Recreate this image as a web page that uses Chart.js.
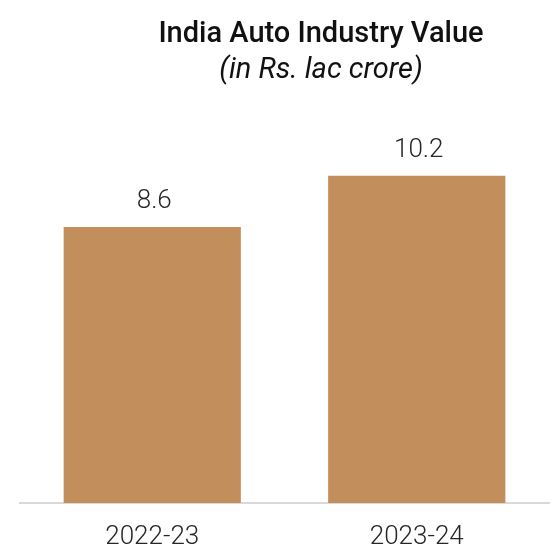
<!DOCTYPE html>
<html>
<head>
<meta charset="utf-8">
<script src="https://cdn.jsdelivr.net/npm/chart.js@4"></script>
<style>
html,body{margin:0;padding:0;background:#fff;}
#wrap{width:555px;height:548px;position:relative;}
</style>
</head>
<body>
<div id="wrap"><canvas id="c" width="555" height="548"></canvas></div>
<script>
const categories = ["2022-23", "2023-24"];
const values = [8.6, 10.2];
const titleText = "India Auto Industry Value";
const subtitleText = "(in Rs. lac crore)";

const titlePlugin = {
  id: 'customTitle',
  afterDraw(chart) {
    const ctx = chart.ctx;
    ctx.save();
    ctx.fillStyle = '#111111';
    ctx.textAlign = 'center';
    ctx.textBaseline = 'alphabetic';
    ctx.font = '500 29px Roboto';
    ctx.fillText(titleText, 321, 42);
    ctx.font = 'italic 400 29px Roboto';
    ctx.fillText(subtitleText, 321, 78);
    ctx.restore();
  }
};

const labelPlugin = {
  id: 'valueLabels',
  afterDatasetsDraw(chart) {
    const ctx = chart.ctx;
    const meta = chart.getDatasetMeta(0);
    ctx.save();
    ctx.fillStyle = '#262626';
    ctx.textAlign = 'center';
    ctx.textBaseline = 'alphabetic';
    ctx.font = '300 26px Roboto';
    meta.data.forEach((bar, i) => {
      ctx.fillText(String(values[i]), bar.x + 2, bar.y - 19);
    });
    ctx.restore();
  }
};

new Chart(document.getElementById('c'), {
  type: 'bar',
  data: {
    labels: categories,
    datasets: [{
      data: values,
      backgroundColor: '#C28F5C',
      borderWidth: 0,
      categoryPercentage: 1.0,
      barPercentage: 0.67
    }]
  },
  options: {
    responsive: false,
    animation: false,
    devicePixelRatio: 1,
    layout: { padding: { top: 118, left: 20, right: 6, bottom: 0 } },
    plugins: { legend: { display: false }, title: { display: false }, tooltip: { enabled: false } },
    scales: {
      x: {
        grid: { display: false, drawTicks: false },
        border: { display: true, color: '#d9d9d9', width: 2 },
        ticks: { color: '#262626', font: { family: 'Roboto', size: 26, weight: '300' }, padding: 19 },
        afterFit(scale) { scale.height = 45; }
      },
      y: {
        display: false,
        min: 0,
        max: 12
      }
    }
  },
  plugins: [titlePlugin, labelPlugin]
});
</script>
</body>
</html>
